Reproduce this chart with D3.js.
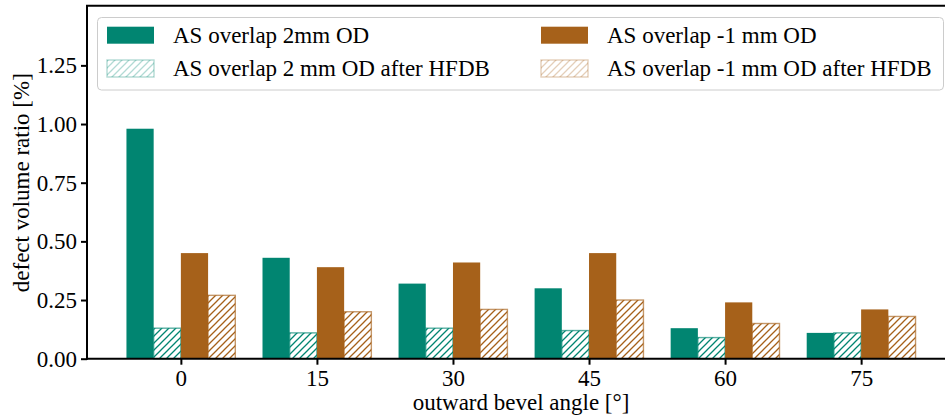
<!DOCTYPE html>
<html>
<head>
<meta charset="utf-8">
<script src="https://cdn.jsdelivr.net/npm/d3@7"></script>
<style>
  html, body { margin: 0; padding: 0; background: #fff; }
  svg { display: block; font-family: "Liberation Serif", "Times New Roman", serif; }
</style>
</head>
<body>
<svg id="chart" width="945" height="419"></svg>
<script>
// Bevel angle categories (degrees)
const categories = ["0", "15", "30", "45", "60", "75"];

// Defect volume ratio [%] per configuration
const overlap2mm          = [0.98, 0.43, 0.32, 0.30, 0.13, 0.11];
const overlap2mmHFDB      = [0.13, 0.11, 0.13, 0.12, 0.09, 0.11];
const overlapMinus1mm     = [0.45, 0.39, 0.41, 0.45, 0.24, 0.21];
const overlapMinus1mmHFDB = [0.27, 0.20, 0.21, 0.25, 0.15, 0.18];

const seriesNames = [
  "AS overlap 2mm OD",
  "AS overlap 2 mm OD after HFDB",
  "AS overlap -1 mm OD",
  "AS overlap -1 mm OD after HFDB"
];

const yTicks = [0, 0.25, 0.5, 0.75, 1.0, 1.25];

const TEAL = "#018571";
const BROWN = "#a6611a";

const series = [
  { name: seriesNames[0], values: overlap2mm,          color: TEAL,  hatch: false, offset: -1.5 },
  { name: seriesNames[1], values: overlap2mmHFDB,      color: TEAL,  hatch: true,  offset: -0.5 },
  { name: seriesNames[2], values: overlapMinus1mm,     color: BROWN, hatch: false, offset: 0.5 },
  { name: seriesNames[3], values: overlapMinus1mmHFDB, color: BROWN, hatch: true,  offset: 1.5 }
];

const svg = d3.select("#chart");
const FS = 23;

const plot = { left: 87, right: 955, top: 6.7, bottom: 358.7 };
const barW = 0.2;

const x = d3.scaleLinear().domain([-0.69, categories.length - 1 + 0.69]).range([plot.left, plot.right]);
const y = d3.scaleLinear().domain([0, 1.5]).range([plot.bottom, plot.top]);

// Hatch patterns ("///")
const defs = svg.append("defs");
function hatchPattern(id, color, opacity) {
  const s = 7;
  const p = defs.append("pattern")
    .attr("id", id)
    .attr("patternUnits", "userSpaceOnUse")
    .attr("width", s).attr("height", s);
  p.append("rect").attr("width", s).attr("height", s).attr("fill", "#fff");
  p.append("path")
    .attr("d", `M${-1},${1} L${1},${-1} M0,${s} L${s},0 M${s - 1},${s + 1} L${s + 1},${s - 1}`)
    .attr("stroke", color)
    .attr("stroke-opacity", opacity)
    .attr("stroke-width", 1.3)
    .attr("shape-rendering", "auto");
}
hatchPattern("hatch-teal", TEAL, 1);
hatchPattern("hatch-brown", BROWN, 1);
hatchPattern("hatch-teal-light", TEAL, 0.3);
hatchPattern("hatch-brown-light", BROWN, 0.3);

// Bars
const bars = svg.append("g");
series.forEach(s => {
  const hid = s.color === TEAL ? "hatch-teal" : "hatch-brown";
  bars.selectAll(null)
    .data(s.values)
    .join("rect")
    .attr("x", (d, i) => x(i + (s.offset - 0.5) * barW))
    .attr("width", x(barW) - x(0))
    .attr("y", d => y(d))
    .attr("height", d => y(0) - y(d))
    .attr("fill", s.hatch ? `url(#${hid})` : s.color)
    .attr("stroke", s.hatch ? s.color : "none")
    .attr("stroke-opacity", 0.65)
    .attr("stroke-width", 1.4);
});

// Axes
const yAxis = d3.axisLeft(y)
  .tickValues(yTicks)
  .tickFormat(d3.format(".2f"))
  .tickSize(6)
  .tickPadding(4);
const gy = svg.append("g").attr("transform", `translate(${plot.left},0)`).call(yAxis);
gy.select(".domain").remove();
gy.selectAll(".tick line").attr("stroke", "#000").attr("stroke-width", 2);
gy.selectAll(".tick text").attr("font-size", FS).attr("fill", "#000").attr("font-family", "Liberation Serif, serif");

const xAxis = d3.axisBottom(x)
  .tickValues(d3.range(categories.length))
  .tickFormat(i => categories[i])
  .tickSize(6)
  .tickPadding(5);
const gx = svg.append("g").attr("transform", `translate(0,${plot.bottom})`).call(xAxis);
gx.select(".domain").remove();
gx.selectAll(".tick line").attr("stroke", "#000").attr("stroke-width", 2);
gx.selectAll(".tick text").attr("font-size", FS).attr("fill", "#000").attr("font-family", "Liberation Serif, serif");

// Spines
const spines = svg.append("g").attr("stroke", "#000").attr("stroke-width", 2).attr("fill", "none");
spines.append("line").attr("x1", plot.left).attr("x2", plot.left).attr("y1", plot.top - 1).attr("y2", plot.bottom + 1);
spines.append("line").attr("x1", plot.left - 1).attr("x2", plot.right).attr("y1", plot.bottom).attr("y2", plot.bottom);
spines.append("line").attr("x1", plot.left - 1).attr("x2", plot.right).attr("y1", plot.top - 1).attr("y2", plot.top - 1);
spines.append("line").attr("x1", plot.right).attr("x2", plot.right).attr("y1", plot.top - 1).attr("y2", plot.bottom + 1);

// Axis labels
svg.append("text")
  .attr("x", (plot.left + plot.right) / 2)
  .attr("y", 409.5)
  .attr("text-anchor", "middle")
  .attr("font-size", FS)
  .text("outward bevel angle [°]");

svg.append("text")
  .attr("transform", `translate(28.5,${(plot.top + plot.bottom) / 2}) rotate(-90)`)
  .attr("text-anchor", "middle")
  .attr("font-size", FS)
  .text("defect volume ratio [%]");

// Legend
const legend = svg.append("g");
legend.append("rect")
  .attr("x", 97.5).attr("y", 17.5)
  .attr("width", 846).attr("height", 72.5)
  .attr("rx", 4).attr("ry", 4)
  .attr("fill", "#fff").attr("fill-opacity", 0.8)
  .attr("stroke", "#cccccc").attr("stroke-width", 1);

const legendPos = [
  { px: 107, py: 26.7 },
  { px: 107, py: 60 },
  { px: 541, py: 26.7 },
  { px: 541, py: 60 }
];
series.forEach((s, k) => {
  const p = legendPos[k];
  const light = s.color === TEAL ? "hatch-teal-light" : "hatch-brown-light";
  legend.append("rect")
    .attr("x", p.px).attr("y", p.py)
    .attr("width", 47).attr("height", 17)
    .attr("fill", s.hatch ? `url(#${light})` : s.color)
    .attr("stroke", s.hatch ? s.color : "none")
    .attr("stroke-opacity", 0.3)
    .attr("stroke-width", 1.4);
  legend.append("text")
    .attr("x", p.px + 66)
    .attr("y", p.py + 16)
    .attr("font-size", FS)
    .text(s.name);
});
</script>
</body>
</html>
